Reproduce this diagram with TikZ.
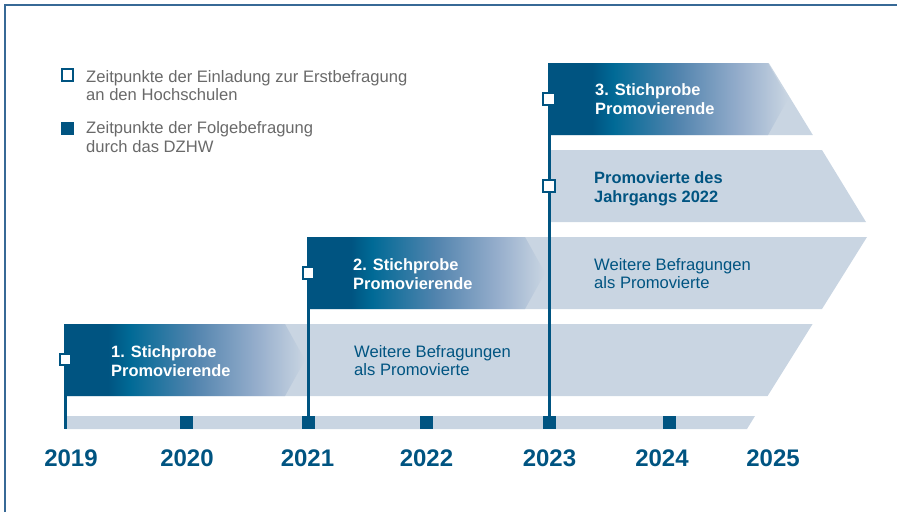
\documentclass[tikz,border=0pt]{standalone}
\usepackage{fontspec}
\setmainfont{Liberation Sans}
\definecolor{dzblue}{RGB}{0,84,129}
\definecolor{dzmid}{RGB}{0,106,150}
\definecolor{dzsteel}{RGB}{82,132,174}
\definecolor{dzpale}{RGB}{150,174,204}
\definecolor{dzlight}{RGB}{201,213,226}
\definecolor{dzgray}{RGB}{105,105,105}
\definecolor{dzframe}{RGB}{55,105,150}
\pgfdeclarehorizontalshading{stichshade}{100bp}{color(0bp)=(dzblue); color(34bp)=(dzblue); color(38.5bp)=(dzmid); color(52bp)=(dzsteel); color(65bp)=(dzpale); color(75bp)=(dzlight); color(100bp)=(dzlight)}
\tikzset{
  band/.style={fill=dzlight},
  stich/.style={shading=stichshade},
  stem/.style={draw=dzblue, line width=3pt},
  frame/.style={draw=dzframe, line width=1.5pt},
  folge/.style={fill=dzblue, minimum size=13pt, inner sep=0pt},
  einl/.style={draw=dzblue, line width=2pt, fill=white, minimum size=11.5pt, inner sep=0pt},
  legtext/.style={anchor=north west, inner sep=0pt, align=left, text=dzgray, font=\fontsize{16.6}{18.6}\selectfont},
  stichtext/.style={anchor=north west, inner sep=0pt, align=left, text=white, font=\bfseries\fontsize{16.4}{19.3}\selectfont},
  weitertext/.style={anchor=north west, inner sep=0pt, align=left, text=dzblue, font=\fontsize{16.6}{18.6}\selectfont},
  jahrtext/.style={anchor=north west, inner sep=0pt, align=left, text=dzblue, font=\bfseries\fontsize{16.4}{19.3}\selectfont},
  year/.style={anchor=base, inner sep=0pt, text=dzblue, font=\bfseries\fontsize{24}{28}\selectfont}
}
\begin{document}
\begin{tikzpicture}[x=1pt,y=-1pt]
\useasboundingbox (0,0) rectangle (897,512);
\draw[frame] (5,512) -- (5,5) -- (897,5);
% legend
\node[einl] (legeinl) at (67.5,75) {};
\node[legtext] (legeinltext) at (86,70) {Zeitpunkte der Einladung zur Erstbefragung\\an den Hochschulen};
\node[folge] (legfolge) at (67.5,128) {};
\node[legtext] (legfolgetext) at (86,121.5) {Zeitpunkte der Folgebefragung\\durch das DZHW};
% bands
\fill[band] (65,324) -- (812.6,324) -- (767.6,396) -- (65,396) -- cycle;
\fill[band] (308,237) -- (867,237) -- (822,309) -- (308,309) -- cycle;
\fill[band] (549,150) -- (822,150) -- (866,222) -- (549,222) -- cycle;
\fill[band] (549,63) -- (768.8,63) -- (812.8,135) -- (549,135) -- cycle;
\shade[stich] (65,324) -- (285,324) -- (305,360) -- (285,396) -- (65,396) -- cycle;
\shade[stich] (308,237) -- (525,237) -- (545,273) -- (525,309) -- (308,309) -- cycle;
\shade[stich] (549,63) -- (768,63) -- (788,99) -- (768,135) -- (549,135) -- cycle;
% timeline
\fill[band] (65,416) -- (755,416) -- (747,429) -- (65,429) -- cycle;
\coordinate (s2019) at (65.5,324);
\coordinate (s2021) at (308.5,237);
\coordinate (s2023) at (549,63);
\coordinate (t2019) at (65.5,429);
\coordinate (t2021) at (308.5,429);
\coordinate (t2023) at (549,429);
\draw[stem] (s2019) -- (t2019);
\draw[stem] (s2021) -- (t2021);
\draw[stem] (s2023) -- (t2023);
\node[folge] (f2020) at (186.5,422.5) {};
\node[folge] (f2021) at (308.5,422.5) {};
\node[folge] (f2022) at (426.5,422.5) {};
\node[folge] (f2023) at (549,422.5) {};
\node[folge] (f2024) at (669.5,422.5) {};
\node[einl] (e2019) at (65.5,359.5) {};
\node[einl] (e2021) at (308.5,273) {};
\node[einl] (e2023a) at (549,99) {};
\node[einl] (e2023b) at (549,186) {};
% labels
\node[stichtext] (stich1) at (111,345) {1. Stichprobe\\Promovierende};
\node[weitertext] (weiter1) at (354,345) {Weitere Befragungen\\als Promovierte};
\node[stichtext] (stich2) at (353,258) {2. Stichprobe\\Promovierende};
\node[weitertext] (weiter2) at (594,258) {Weitere Befragungen\\als Promovierte};
\node[jahrtext] (jahr2022) at (594,171.5) {Promovierte des\\Jahrgangs 2022};
\node[stichtext] (stich3) at (595,83.5) {3. Stichprobe\\Promovierende};
\node[year] (y2019) at (71,466) {2019};
\node[year] (y2020) at (187,466) {2020};
\node[year] (y2021) at (307.5,466) {2021};
\node[year] (y2022) at (426.5,466) {2022};
\node[year] (y2023) at (549.5,466) {2023};
\node[year] (y2024) at (662,466) {2024};
\node[year] (y2025) at (773,466) {2025};
\end{tikzpicture}
\end{document}
